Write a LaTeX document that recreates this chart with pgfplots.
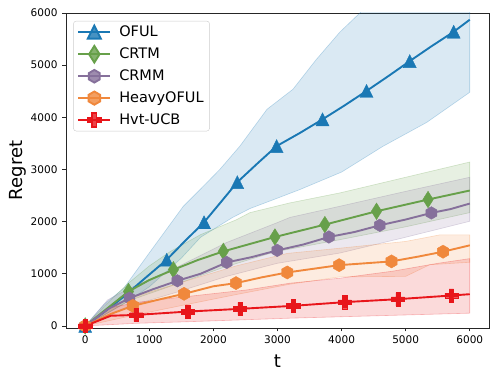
\documentclass[border=0pt]{standalone}
\usepackage{pgfplots}
\pgfplotsset{compat=1.18}
\usepackage{fontspec}
\setmainfont{DejaVu Sans}
\definecolor{cOFUL}{HTML}{1A78B4}
\definecolor{cCRTM}{HTML}{67A04A}
\definecolor{cCRMM}{HTML}{86709B}
\definecolor{cHeavy}{HTML}{F0883C}
\definecolor{cHvt}{HTML}{E8161B}

\pgfdeclareplotmark{mtri}{%
  \pgfpathmoveto{\pgfqpoint{0pt}{\pgfplotmarksize}}%
  \pgfpathlineto{\pgfqpoint{-\pgfplotmarksize}{-\pgfplotmarksize}}%
  \pgfpathlineto{\pgfqpoint{\pgfplotmarksize}{-\pgfplotmarksize}}%
  \pgfpathclose\pgfusepathqfillstroke}
\pgfdeclareplotmark{mdia}{%
  \pgfpathmoveto{\pgfqpoint{0pt}{\pgfplotmarksize}}%
  \pgfpathlineto{\pgfqpoint{-0.63\pgfplotmarksize}{0pt}}%
  \pgfpathlineto{\pgfqpoint{0pt}{-\pgfplotmarksize}}%
  \pgfpathlineto{\pgfqpoint{0.63\pgfplotmarksize}{0pt}}%
  \pgfpathclose\pgfusepathqfillstroke}
\pgfdeclareplotmark{mhex}{%
  \pgfpathmoveto{\pgfqpoint{0pt}{\pgfplotmarksize}}%
  \pgfpathlineto{\pgfqpoint{-0.866\pgfplotmarksize}{0.5\pgfplotmarksize}}%
  \pgfpathlineto{\pgfqpoint{-0.866\pgfplotmarksize}{-0.5\pgfplotmarksize}}%
  \pgfpathlineto{\pgfqpoint{0pt}{-\pgfplotmarksize}}%
  \pgfpathlineto{\pgfqpoint{0.866\pgfplotmarksize}{-0.5\pgfplotmarksize}}%
  \pgfpathlineto{\pgfqpoint{0.866\pgfplotmarksize}{0.5\pgfplotmarksize}}%
  \pgfpathclose\pgfusepathqfillstroke}
\pgfdeclareplotmark{mplus}{%
  \pgfpathmoveto{\pgfqpoint{-0.333\pgfplotmarksize}{-\pgfplotmarksize}}%
  \pgfpathlineto{\pgfqpoint{0.333\pgfplotmarksize}{-\pgfplotmarksize}}%
  \pgfpathlineto{\pgfqpoint{0.333\pgfplotmarksize}{-0.333\pgfplotmarksize}}%
  \pgfpathlineto{\pgfqpoint{\pgfplotmarksize}{-0.333\pgfplotmarksize}}%
  \pgfpathlineto{\pgfqpoint{\pgfplotmarksize}{0.333\pgfplotmarksize}}%
  \pgfpathlineto{\pgfqpoint{0.333\pgfplotmarksize}{0.333\pgfplotmarksize}}%
  \pgfpathlineto{\pgfqpoint{0.333\pgfplotmarksize}{\pgfplotmarksize}}%
  \pgfpathlineto{\pgfqpoint{-0.333\pgfplotmarksize}{\pgfplotmarksize}}%
  \pgfpathlineto{\pgfqpoint{-0.333\pgfplotmarksize}{0.333\pgfplotmarksize}}%
  \pgfpathlineto{\pgfqpoint{-\pgfplotmarksize}{0.333\pgfplotmarksize}}%
  \pgfpathlineto{\pgfqpoint{-\pgfplotmarksize}{-0.333\pgfplotmarksize}}%
  \pgfpathlineto{\pgfqpoint{-0.333\pgfplotmarksize}{-0.333\pgfplotmarksize}}%
  \pgfpathclose\pgfusepathqfillstroke}

\pgfplotsset{
  band/.style={forget plot, fill=#1, fill opacity=0.16, draw=#1, draw opacity=0.28, line width=0.6pt},
  mline/.style={forget plot, color=#1, line width=1.9pt, no marks},
}

\begin{document}
\begin{tikzpicture}
\path[use as bounding box] (-66pt,-51pt) rectangle (432pt,328pt);
\begin{axis}[
  at={(0,0)}, anchor=south west,
  scale only axis, width=423pt, height=315pt,
  xmin=-300, xmax=6300, ymin=-40, ymax=6000,
  xtick={0,1000,...,6000}, ytick={0,1000,...,6000},
  tick pos=left, tick align=outside, major tick length=3.5pt,
  tick style={black!85, line width=0.6pt},
  axis line style={black!85, line width=0.7pt},
  /pgf/number format/assume math mode=true,
  /pgf/number format/1000 sep={},
  scaled ticks=false,
  ticklabel style={font=\fontsize{10.5}{12}\selectfont},
  yticklabel style={xshift=-1.5pt},
  xticklabel style={yshift=-1pt},
  xlabel={t}, ylabel={Regret},
  label style={font=\fontsize{18}{21}\selectfont},
  xlabel style={at={(axis description cs:0.5,-0.124)}, anchor=base},
  ylabel style={at={(axis description cs:-0.102,0.5)}, anchor=base},
  legend style={at={(0.017,0.975)}, anchor=north west, draw=black!20,
    rounded corners=3pt, fill=white, fill opacity=0.8, text opacity=1,
    font=\fontsize{14.5}{17}\selectfont, cells={anchor=west},
    inner xsep=4pt, inner ysep=3pt, row sep=5.6pt, column sep=6pt},
  legend image code/.code={\draw[mark repeat=2,mark phase=2] plot coordinates {(0pt,0pt) (16pt,0pt) (32pt,0pt)};},
]
% ---------- bands ----------
\addplot[band=cOFUL] coordinates {
(0,0) (300,420) (600,720) (1000,1400) (1527,2288) (1792,2615) (2100,3000) (2415,3450) (2836,4153) (3241,4537) (3600,5100) (3973,5633) (4285,6000) (5000,6900) (6000,7500)
(6000,4480) (5329,3903) (4643,3442) (4000,2950) (3350,2615) (3000,2450) (2570,2250) (2300,2080) (1800,1700) (1500,1300) (1000,750) (600,420) (0,0)} -- cycle;
\addplot[band=cCRTM] coordinates {
(0,0) (300,380) (675,820) (1000,1150) (1324,1424) (1800,1750) (2363,2038) (2570,2172) (3194,2359) (3973,2550) (5000,2850) (6000,3142)
(6000,2172) (5000,1900) (3973,1653) (2960,1420) (2155,1120) (1376,780) (675,480) (0,0)} -- cycle;
\addplot[band=cCRMM] coordinates {
(0,0) (350,500) (691,720) (1438,1130) (2207,1600) (2996,1980) (3194,2080) (3973,2294) (5000,2580) (6000,2850)
(6000,2006) (5000,1700) (3973,1397) (2996,1200) (2207,950) (1438,650) (691,380) (0,0)} -- cycle;
\addplot[band=cHeavy] coordinates {
(0,0) (400,380) (743,550) (1542,850) (2353,1150) (3152,1390) (3973,1490) (5000,1620) (5531,1745) (6000,1745)
(6000,1220) (5375,1173) (5000,950) (3973,940) (3194,800) (2353,600) (1542,400) (743,200) (0,0)} -- cycle;
\addplot[band=cHvt] coordinates {
(0,0) (400,350) (800,450) (1272,520) (2520,690) (3194,819) (3973,915) (4800,1050) (5500,1200) (6000,1290)
(6000,244) (3194,148) (1600,80) (800,50) (0,0)} -- cycle;
% ---------- lines ----------
\addplot[mline=cOFUL] coordinates {
(0,0) (300,270) (600,560) (900,880) (1272,1269) (1550,1620) (1854,1987) (2100,2350) (2373,2756) (2700,3130) (2987,3448) (3350,3700) (3703,3961) (4050,4230) (4389,4505) (4730,4790) (5063,5077) (5400,5360) (5749,5640) (6000,5871)};
\addplot[only marks, forget plot, mark=mtri, mark size=6.5pt, color=cOFUL, fill=cOFUL] coordinates {
(0,0) (1272,1269) (1854,1987) (2373,2756) (2987,3448) (3703,3961) (4389,4505) (5063,5077) (5749,5640)};
\addplot[mline=cCRTM] coordinates {
(0,0) (675,660) (1000,880) (1376,1077) (1750,1260) (2155,1429) (2960,1705) (3739,1942) (4545,2198) (5349,2423) (6000,2596)};
\addplot[only marks, forget plot, mark=mdia, mark size=8.3pt, color=cCRTM, fill=cCRTM] coordinates {
(0,0) (675,660) (1376,1077) (2155,1429) (2960,1705) (3739,1942) (4545,2198) (5349,2423)};
\addplot[mline=cCRMM] coordinates {
(0,0) (350,320) (691,532) (1050,700) (1438,865) (1800,1000) (2207,1217) (2600,1320) (2996,1448) (3400,1560) (3802,1705) (4200,1800) (4596,1929) (5000,2040) (5401,2166) (5700,2240) (6000,2346)};
\addplot[only marks, forget plot, mark=mhex, mark size=6.3pt, color=cCRMM, fill=cCRMM] coordinates {
(0,0) (691,532) (1438,865) (2207,1217) (2996,1448) (3802,1705) (4596,1929) (5401,2166)};
\addplot[mline=cHeavy] coordinates {
(0,0) (400,230) (743,385) (1200,520) (1542,615) (2000,760) (2353,821) (2750,930) (3152,1025) (3962,1165) (4779,1237) (5200,1330) (5583,1423) (6000,1545)};
\addplot[only marks, forget plot, mark=mhex, mark size=6.6pt, color=cHeavy, fill=cHeavy] coordinates {
(0,0) (743,385) (1542,615) (2353,821) (3152,1025) (3962,1165) (4779,1237) (5583,1423)};
\addplot[mline=cHvt] coordinates {
(0,0) (400,195) (795,211) (1600,275) (2415,327) (3246,385) (4051,456) (4881,513) (5713,583) (6000,608)};
\addplot[only marks, forget plot, mark=mplus, mark size=6.6pt, color=cHvt, fill=cHvt] coordinates {
(0,0) (795,211) (1600,275) (2415,327) (3246,385) (4051,456) (4881,513) (5713,583)};
% ---------- legend ----------
\addlegendimage{color=cOFUL, line width=1.9pt, mark=mtri, mark size=6.5pt, mark options={solid, fill=cOFUL}}
\addlegendentry{OFUL}
\addlegendimage{color=cCRTM, line width=1.9pt, mark=mdia, mark size=8.3pt, mark options={solid, fill=cCRTM}}
\addlegendentry{CRTM}
\addlegendimage{color=cCRMM, line width=1.9pt, mark=mhex, mark size=6.3pt, mark options={solid, fill=cCRMM}}
\addlegendentry{CRMM}
\addlegendimage{color=cHeavy, line width=1.9pt, mark=mhex, mark size=6.6pt, mark options={solid, fill=cHeavy}}
\addlegendentry{HeavyOFUL}
\addlegendimage{color=cHvt, line width=1.9pt, mark=mplus, mark size=6.6pt, mark options={solid, fill=cHvt}}
\addlegendentry{Hvt-UCB}
\end{axis}
\end{tikzpicture}
\end{document}
